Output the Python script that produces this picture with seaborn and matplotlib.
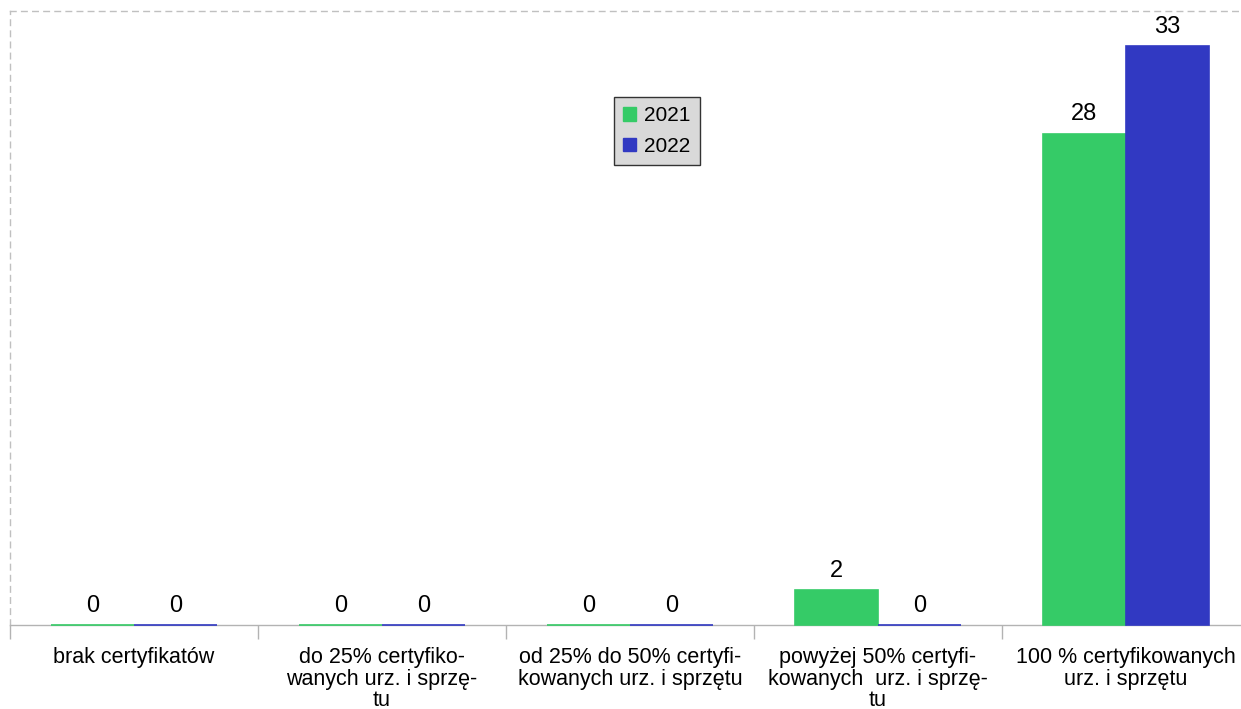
import pandas as pd
import matplotlib.pyplot as plt
import seaborn as sns
from matplotlib.patches import Patch

# Dane
kategorie = [
    'brak certyfikatów',
    'do 25% certyfiko-\nwanych urz. i sprzę-\ntu',
    'od 25% do 50% certyfi-\nkowanych urz. i sprzętu',
    'powyżej 50% certyfi-\nkowanych  urz. i sprzę-\ntu',
    '100 % certyfikowanych\nurz. i sprzętu',
]
lata = ['2021', '2022']
wartosci_2021 = [0, 0, 0, 2, 28]
wartosci_2022 = [0, 0, 0, 0, 33]
kolory = ['#35cb67', '#3139c2']

df = pd.DataFrame({
    'kategoria': kategorie * 2,
    'rok': [lata[0]] * len(kategorie) + [lata[1]] * len(kategorie),
    'liczba': wartosci_2021 + wartosci_2022,
})

sns.set_style('white')
plt.rcParams['font.family'] = ['Liberation Sans', 'DejaVu Sans']
plt.rcParams['text.color'] = 'black'
plt.rcParams['xtick.color'] = '#b3b3b3'
plt.rcParams['xtick.labelcolor'] = 'black'

fig = plt.figure(figsize=(12.41, 7.09), dpi=100)
ax = fig.add_axes([10 / 1241, 84 / 709, 1240 / 1241, 614 / 709])

sns.barplot(data=df, x='kategoria', y='liczba', hue='rok', palette=kolory,
            width=0.67, saturation=1, ax=ax, legend=False)

for p in ax.patches:
    p.set_edgecolor(p.get_facecolor())
    p.set_linewidth(1.2)
    p.set_zorder(3)
    p.set_clip_on(False)

for c in ax.containers:
    ax.bar_label(c, fmt='%d', padding=6, fontsize=17, color='black')

ax.set_xlim(-0.5, 4.5)
ax.set_ylim(0, 35)
ax.set_xlabel('')
ax.set_ylabel('')
ax.set_yticks([])
ax.tick_params(axis='x', which='major', length=0, labelsize=15.5, pad=16)
for t in ax.get_xticklabels():
    t.set_linespacing(1.02)
ax.set_xticks([i - 0.5 for i in range(len(kategorie))], minor=True)
ax.tick_params(axis='x', which='minor', bottom=True, length=10,
               color='#b3b3b3', width=1)

for s in ['top', 'left']:
    ax.spines[s].set_linestyle((0, (4, 4)))
    ax.spines[s].set_color('#c0c0c0')
    ax.spines[s].set_linewidth(1)
ax.spines['right'].set_visible(False)
ax.spines['bottom'].set_color('#b3b3b3')
ax.spines['bottom'].set_linewidth(1)

uchwyty = [Patch(facecolor=k, edgecolor=k) for k in kolory]
leg = ax.legend(uchwyty, lata, loc='upper left', bbox_to_anchor=(0.487, 0.86),
                borderaxespad=0, fontsize=15, handlelength=0.6, handleheight=0.6,
                handletextpad=0.4, fancybox=False, framealpha=1,
                borderpad=0.45, labelspacing=0.55)
leg.get_frame().set_facecolor('#d9d9d9')
leg.get_frame().set_edgecolor('#333333')

plt.savefig('out.png', dpi=100)
plt.close()
